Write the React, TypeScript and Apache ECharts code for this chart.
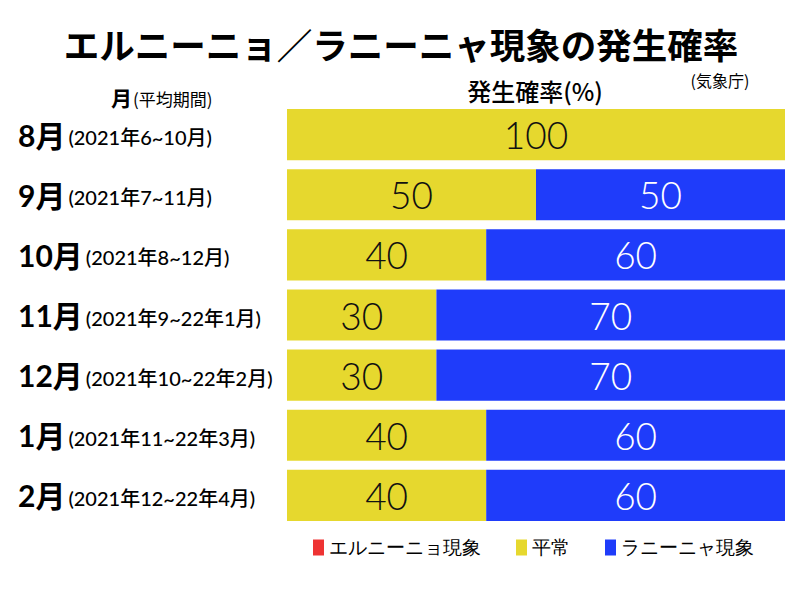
import React, { useEffect, useRef } from "react";
import * as echarts from "echarts";

const months = ["8月", "9月", "10月", "11月", "12月", "1月", "2月"];
const periods = [
  "(2021年6~10月)",
  "(2021年7~11月)",
  "(2021年8~12月)",
  "(2021年9~22年1月)",
  "(2021年10~22年2月)",
  "(2021年11~22年3月)",
  "(2021年12~22年4月)",
];
const elNino = [0, 0, 0, 0, 0, 0, 0];
const normal = [100, 50, 40, 30, 30, 40, 40];
const laNina = [0, 50, 60, 70, 70, 60, 60];
const seriesNames = ["エルニーニョ現象", "平常", "ラニーニャ現象"];

const RED = "#EE3333";
const YELLOW = "#E6D82E";
const BLUE = "#1F3CFA";
const SANS = 'Lato, "Noto Sans CJK JP", sans-serif';
const CJK = '"Noto Sans CJK JP", sans-serif';

export default function App() {
  const ref = useRef<HTMLDivElement>(null);
  useEffect(() => {
    if (!ref.current) return;
    const chart = echarts.init(ref.current, null, { renderer: "svg" });
    const categories = months.map((m, i) => m + "|" + periods[i]);
    const label = (color: string) => ({
      show: true,
      position: "inside",
      color,
      fontFamily: SANS,
      fontSize: 37,
      fontWeight: 300,
      formatter: (p: any) => (p.value > 0 ? String(p.value) : ""),
    });
    chart.setOption({
      animation: false,
      backgroundColor: "#ffffff",
      grid: { left: 287, right: 15, top: 104.5, bottom: 74.5, containLabel: false },
      xAxis: { type: "value", min: 0, max: 100, show: false },
      yAxis: {
        type: "category",
        inverse: true,
        data: categories,
        axisLine: { show: false },
        axisTick: { show: false },
        axisLabel: {
          align: "left",
          margin: 269,
          formatter: (v: string) => {
            const [m, p] = v.split("|");
            return "{a|" + m + "}{b|" + p + "}";
          },
          rich: {
            a: { fontFamily: SANS, fontSize: 30, fontWeight: "bold", color: "#000" },
            b: { fontFamily: SANS, fontSize: 20, fontWeight: 500, color: "#000", padding: [5, 0, 0, 3] },
          },
        },
      },
      legend: {
        top: 538,
        left: 313,
        padding: 0,
        itemWidth: 11,
        itemHeight: 16,
        itemGap: 35,
        icon: "rect",
        textStyle: { fontFamily: "serif", fontSize: 19, color: "#000" },
        data: seriesNames,
      },
      series: [
        {
          name: seriesNames[0],
          type: "bar",
          stack: "p",
          data: elNino,
          barCategoryGap: "15%",
          itemStyle: { color: RED },
          label: label("#fff"),
        },
        {
          name: seriesNames[1],
          type: "bar",
          stack: "p",
          data: normal,
          barCategoryGap: "15%",
          itemStyle: { color: YELLOW },
          label: label("#111"),
        },
        {
          name: seriesNames[2],
          type: "bar",
          stack: "p",
          data: laNina,
          barCategoryGap: "15%",
          itemStyle: { color: BLUE },
          label: label("#fff"),
        },
      ],
      graphic: [
        {
          type: "text",
          x: 401,
          y: 43,
          style: {
            text: "エルニーニョ／ラニーニャ現象の発生確率",
            fontFamily: CJK,
            fontSize: 35.5,
            lineHeight: 36,
            fontWeight: "bold",
            fill: "#000",
            textAlign: "center",
            textVerticalAlign: "middle",
          },
        },
        {
          type: "text",
          x: 720,
          y: 80,
          style: {
            text: "(気象庁)",
            fontFamily: CJK,
            fontSize: 16,
            lineHeight: 16,
            fill: "#000",
            textAlign: "center",
            textVerticalAlign: "middle",
          },
        },
        {
          type: "text",
          x: 111,
          y: 97,
          style: {
            text: "{a|月}{b|(平均期間)}",
            rich: {
              a: { fontFamily: CJK, fontSize: 21, fontWeight: "bold", fill: "#000" },
              b: { fontFamily: CJK, fontSize: 17, fill: "#000", padding: [3, 0, 0, 1] },
            },
            textAlign: "left",
            textVerticalAlign: "middle",
          },
        },
        {
          type: "text",
          x: 535,
          y: 90,
          style: {
            text: "発生確率(%)",
            fontFamily: CJK,
            fontSize: 24,
            fontWeight: 500,
            fill: "#000",
            textAlign: "center",
            textVerticalAlign: "middle",
          },
        },
      ],
    });
    return () => chart.dispose();
  }, []);
  return <div ref={ref} style={{ width: 800, height: 600, margin: -8 }} />;
}
